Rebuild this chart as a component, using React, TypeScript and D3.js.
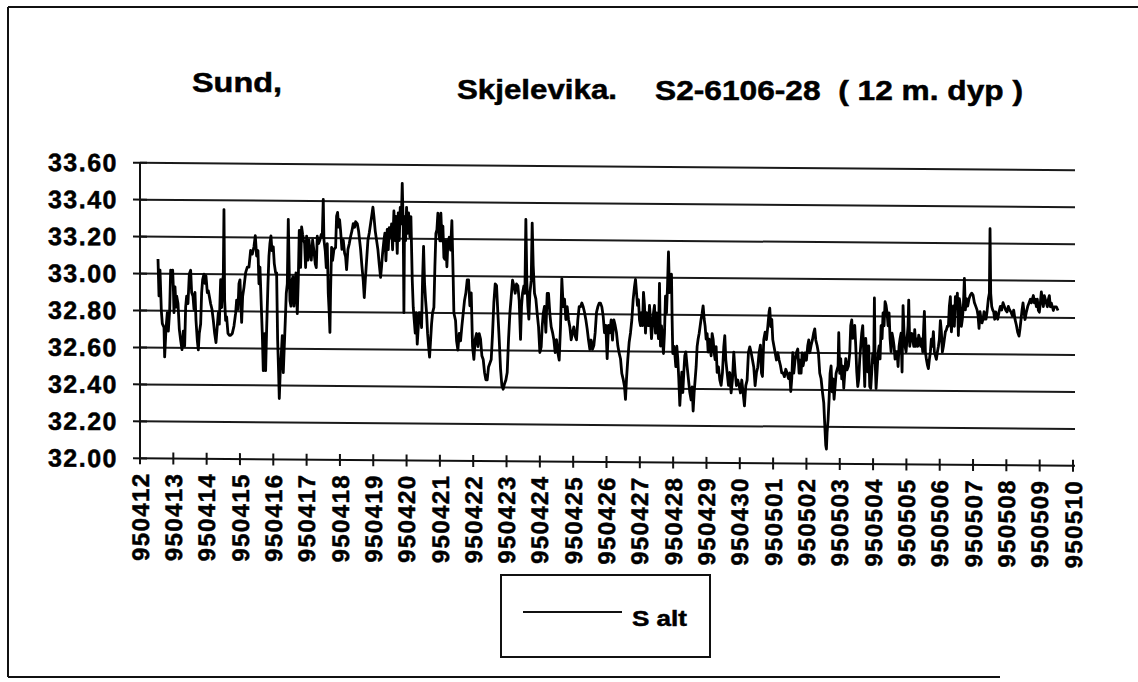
import React from 'react';
import * as d3 from 'd3';

// Salinity readings: [days since 950412 00:00, salinity]
const readings: [number, number][] = [
[0.54,33.08],[0.57,32.88],[0.60,33.02],[0.64,32.80],[0.67,32.73],[0.72,32.71],[0.74,32.55],[0.78,32.70],[0.82,32.79],[0.85,32.69],
[0.89,32.80],[0.92,33.02],[0.95,33.00],[0.98,33.02],[1.00,32.93],[1.02,32.79],[1.05,32.93],[1.08,32.82],[1.10,32.88],[1.14,32.84],
[1.18,32.70],[1.22,32.64],[1.26,32.59],[1.30,32.69],[1.34,32.61],[1.37,32.82],[1.40,32.88],[1.44,32.84],[1.48,33.00],[1.52,33.02],
[1.55,32.90],[1.59,32.88],[1.62,32.81],[1.65,32.90],[1.68,32.75],[1.72,32.64],[1.75,32.59],[1.78,32.68],[1.82,32.73],[1.85,32.90],
[1.88,32.97],[1.92,33.00],[1.95,32.95],[1.98,32.99],[2.02,32.90],[2.05,32.91],[2.08,32.88],[2.12,32.84],[2.16,32.81],[2.20,32.75],
[2.24,32.68],[2.28,32.63],[2.32,32.72],[2.35,32.79],[2.38,32.73],[2.42,32.97],[2.45,32.82],[2.48,32.97],[2.50,32.99],[2.52,33.35],
[2.54,32.86],[2.57,32.75],[2.60,32.77],[2.64,32.68],[2.68,32.67],[2.72,32.67],[2.77,32.68],[2.82,32.72],[2.87,32.79],[2.90,32.86],
[2.94,32.81],[2.97,32.95],[3.00,32.97],[3.02,32.88],[3.05,32.74],[3.08,32.88],[3.12,32.93],[3.17,33.01],[3.22,33.04],[3.27,33.04],
[3.32,33.13],[3.37,33.11],[3.42,33.15],[3.46,33.21],[3.50,33.10],[3.54,33.13],[3.57,32.95],[3.60,33.04],[3.64,32.83],[3.67,32.68],
[3.70,32.48],[3.74,32.68],[3.77,32.48],[3.80,32.70],[3.84,32.95],[3.87,33.10],[3.90,33.17],[3.93,33.21],[3.96,33.13],[4.00,33.15],
[4.03,33.06],[4.07,33.01],[4.10,33.01],[4.13,32.65],[4.16,32.47],[4.18,32.33],[4.21,32.48],[4.24,32.57],[4.27,32.67],[4.30,32.47],
[4.33,32.61],[4.36,32.75],[4.39,32.90],[4.42,32.95],[4.45,33.30],[4.48,33.01],[4.50,32.86],[4.53,32.83],[4.56,32.97],[4.59,32.99],
[4.62,32.83],[4.65,32.92],[4.68,33.01],[4.72,32.79],[4.75,32.97],[4.78,33.24],[4.82,33.04],[4.85,33.26],[4.88,33.22],[4.91,33.19],
[4.94,33.17],[4.97,33.04],[5.00,33.21],[5.04,33.08],[5.07,33.19],[5.10,33.13],[5.14,33.08],[5.18,33.19],[5.22,33.13],[5.26,33.06],
[5.29,33.04],[5.32,33.21],[5.36,33.17],[5.40,33.19],[5.44,33.22],[5.47,33.21],[5.50,33.41],[5.52,33.19],[5.56,33.13],[5.59,33.04],
[5.62,33.17],[5.65,32.90],[5.68,32.79],[5.70,32.69],[5.72,32.92],[5.75,33.15],[5.78,33.08],[5.82,33.14],[5.87,33.15],[5.90,33.32],
[5.93,33.34],[5.96,33.26],[5.99,33.30],[6.02,33.24],[6.06,33.14],[6.10,33.19],[6.14,33.12],[6.17,33.10],[6.20,33.03],[6.24,33.14],
[6.28,33.17],[6.32,33.21],[6.36,33.24],[6.40,33.28],[6.44,33.26],[6.47,33.29],[6.52,33.28],[6.56,33.24],[6.59,33.19],[6.62,33.14],
[6.66,33.05],[6.70,32.97],[6.73,32.88],[6.76,32.97],[6.80,33.08],[6.84,33.19],[6.88,33.23],[6.92,33.28],[6.96,33.33],[6.99,33.37],
[7.02,33.32],[7.06,33.24],[7.10,33.19],[7.14,33.14],[7.18,33.06],[7.22,32.99],[7.25,33.05],[7.28,33.12],[7.32,33.19],[7.35,33.23],
[7.38,33.08],[7.42,33.25],[7.45,33.14],[7.48,33.26],[7.52,33.21],[7.55,33.28],[7.58,33.14],[7.62,33.35],[7.65,33.19],[7.68,33.32],
[7.72,33.12],[7.75,33.34],[7.78,33.19],[7.81,33.37],[7.84,33.28],[7.87,33.50],[7.90,33.26],[7.92,32.80],[7.94,33.32],[7.97,33.19],
[8.00,33.37],[8.03,33.23],[8.06,33.34],[8.10,33.21],[8.13,33.32],[8.17,32.98],[8.20,32.83],[8.23,32.76],[8.26,32.69],[8.29,32.80],
[8.32,32.63],[8.35,32.72],[8.38,32.80],[8.42,32.80],[8.45,32.72],[8.48,32.98],[8.51,33.16],[8.54,32.96],[8.57,32.87],[8.60,32.80],
[8.63,32.69],[8.66,32.62],[8.69,32.56],[8.72,32.65],[8.75,32.74],[8.78,32.80],[8.82,32.83],[8.85,33.05],[8.88,33.23],[8.91,33.25],
[8.94,33.34],[8.97,33.23],[9.00,33.19],[9.03,33.34],[9.06,33.19],[9.09,33.27],[9.12,33.10],[9.15,33.09],[9.18,33.19],[9.21,33.05],
[9.24,33.18],[9.28,33.21],[9.32,33.14],[9.36,33.30],
[9.40,32.98],[9.42,32.80],[9.47,32.76],[9.50,32.65],[9.54,32.60],[9.58,32.69],[9.62,32.65],[9.66,32.73],[9.70,32.80],[9.74,32.87],
[9.78,32.91],[9.82,32.98],[9.86,32.98],[9.90,32.84],[9.94,32.91],[9.98,32.62],[10.02,32.55],[10.06,32.66],[10.10,32.69],[10.14,32.62],
[10.18,32.69],[10.22,32.66],[10.26,32.57],[10.30,32.55],[10.34,32.48],[10.38,32.44],[10.42,32.44],[10.46,32.51],[10.50,32.53],[10.54,32.55],
[10.58,32.69],[10.62,32.86],[10.66,32.96],[10.70,32.95],[10.74,32.80],[10.78,32.66],[10.82,32.50],[10.86,32.41],[10.90,32.39],[10.94,32.42],
[10.98,32.44],[11.02,32.48],[11.06,32.66],[11.10,32.80],[11.14,32.89],[11.18,32.98],[11.22,32.95],[11.26,32.91],[11.30,32.96],[11.34,32.95],
[11.38,32.87],[11.42,32.66],[11.45,32.84],[11.48,32.91],[11.52,32.95],[11.55,32.91],[11.58,33.31],[11.61,32.97],[11.64,32.84],[11.67,32.77],
[11.70,32.91],[11.74,32.98],[11.77,33.29],[11.80,33.06],[11.84,32.91],[11.88,32.88],[11.92,32.80],[11.96,32.73],[12.00,32.59],[12.04,32.62],
[12.07,32.73],[12.10,32.80],[12.14,32.84],[12.18,32.70],[12.22,32.91],[12.26,32.91],[12.30,32.80],[12.34,32.73],[12.38,32.70],[12.42,32.66],
[12.46,32.59],[12.50,32.66],[12.54,32.59],[12.58,32.55],[12.62,32.73],[12.66,32.99],[12.70,32.84],[12.74,32.88],[12.78,32.77],[12.82,32.84],
[12.86,32.77],[12.90,32.73],[12.94,32.66],[12.98,32.70],[13.02,32.73],[13.06,32.68],[13.10,32.66],[13.14,32.77],[13.18,32.84],[13.22,32.84],
[13.26,32.86],[13.30,32.84],[13.34,32.81],[13.38,32.77],[13.42,32.72],[13.46,32.66],[13.50,32.61],[13.54,32.66],[13.58,32.61],[13.62,32.63],
[13.66,32.70],[13.70,32.81],[13.74,32.84],[13.78,32.86],[13.82,32.86],[13.86,32.84],[13.90,32.79],[13.94,32.70],[13.98,32.74],[14.02,32.56],
[14.06,32.74],[14.10,32.70],[14.14,32.77],[14.18,32.66],[14.22,32.77],[14.26,32.74],[14.30,32.70],[14.34,32.63],[14.38,32.59],[14.42,32.56],
[14.46,32.48],[14.50,32.45],[14.54,32.41],[14.57,32.34],[14.60,32.45],[14.64,32.56],[14.68,32.65],[14.72,32.70],[14.76,32.77],[14.80,32.88],
[14.84,32.95],[14.87,32.99],[14.90,32.92],[14.93,32.85],[14.96,32.88],[14.99,32.77],[15.02,32.74],[15.05,32.81],[15.08,32.74],[15.11,32.92],
[15.14,32.85],[15.17,32.70],[15.20,32.81],[15.23,32.77],[15.26,32.74],[15.29,32.85],[15.32,32.77],[15.35,32.67],[15.38,32.74],[15.41,32.81],
[15.44,32.85],[15.47,32.70],[15.50,32.81],[15.53,32.74],[15.56,32.67],[15.59,32.97],[15.62,32.63],[15.65,32.74],[15.68,32.67],[15.71,32.59],
[15.74,32.70],[15.77,32.90],[15.80,32.81],[15.83,32.95],[15.86,33.14],[15.89,32.92],[15.92,32.95],[15.95,33.02],[15.97,32.77],[15.99,32.59],
[16.02,32.63],[16.05,32.59],[16.08,32.52],[16.11,32.63],[16.14,32.56],[16.17,32.45],[16.20,32.31],[16.23,32.41],[16.26,32.49],[16.29,32.38],
[16.32,32.49],[16.35,32.58],[16.38,32.60],[16.42,32.52],[16.46,32.45],[16.50,32.38],[16.54,32.34],[16.57,32.41],[16.60,32.28],[16.63,32.38],
[16.66,32.45],[16.69,32.52],[16.72,32.63],[16.75,32.67],[16.78,32.70],[16.81,32.74],[16.84,32.78],[16.87,32.81],[16.90,32.85],[16.93,32.78],
[16.96,32.74],[16.99,32.67],[17.02,32.70],[17.05,32.60],[17.08,32.67],[17.11,32.63],[17.14,32.58],[17.17,32.70],[17.20,32.67],[17.23,32.60],
[17.26,32.56],[17.29,32.63],[17.32,32.49],[17.36,32.52],[17.40,32.45],[17.44,32.42],[17.48,32.49],[17.52,32.63],[17.55,32.69],[17.58,32.56],
[17.62,32.49],[17.66,32.42],[17.70,32.49],[17.74,32.38],[17.78,32.45],[17.82,32.60],[17.86,32.49],[17.90,32.42],[17.94,32.45],[17.98,32.42],
[18.02,32.38],[18.06,32.45],[18.10,32.38],[18.14,32.31],[18.18,32.42],[18.22,32.45],[18.26,32.60],[18.30,32.63],[18.34,32.60],[18.38,32.56],
[18.42,32.52],[18.46,32.42],[18.50,32.49],[18.54,32.52],[18.58,32.60],[18.62,32.64],
[18.65,32.49],[18.68,32.47],[18.72,32.67],[18.76,32.71],[18.80,32.67],[18.84,32.74],[18.88,32.82],[18.90,32.84],[18.93,32.74],[18.96,32.78],
[18.99,32.67],[19.02,32.64],[19.06,32.60],[19.10,32.56],[19.14,32.60],[19.18,32.56],[19.22,32.53],[19.26,32.49],[19.30,32.49],[19.34,32.47],
[19.38,32.51],[19.42,32.49],[19.46,32.46],[19.50,32.49],[19.53,32.39],[19.56,32.46],[19.59,32.60],[19.62,32.49],[19.66,32.56],[19.70,32.60],
[19.74,32.62],[19.78,32.49],[19.81,32.56],[19.84,32.49],[19.87,32.60],[19.90,32.53],[19.93,32.56],[19.96,32.60],[20.00,32.56],[20.04,32.64],
[20.07,32.67],[20.10,32.60],[20.14,32.64],[20.18,32.67],[20.22,32.71],[20.25,32.73],[20.28,32.67],[20.32,32.64],[20.36,32.60],[20.40,32.49],
[20.44,32.46],[20.48,32.39],[20.52,32.33],[20.55,32.21],[20.58,32.10],[20.60,32.08],[20.62,32.17],[20.65,32.24],[20.68,32.35],[20.71,32.49],
[20.74,32.53],[20.77,32.39],[20.80,32.46],[20.83,32.35],[20.86,32.42],[20.89,32.49],[20.92,32.51],[20.95,32.53],[20.97,32.71],[21.00,32.49],
[21.03,32.57],[21.06,32.46],[21.09,32.53],[21.12,32.41],[21.15,32.49],[21.18,32.57],[21.22,32.51],[21.26,32.53],[21.30,32.60],[21.33,32.75],
[21.36,32.78],[21.39,32.68],[21.42,32.71],[21.45,32.75],[21.48,32.64],[21.51,32.50],[21.54,32.42],[21.57,32.46],[21.60,32.57],[21.63,32.64],
[21.66,32.71],[21.69,32.75],[21.72,32.59],[21.75,32.42],[21.78,32.68],[21.81,32.57],[21.84,32.50],[21.87,32.64],[21.90,32.42],[21.93,32.41],
[21.96,32.50],[21.99,32.60],[22.02,32.55],[22.04,32.90],[22.06,32.57],[22.09,32.41],[22.12,32.50],[22.15,32.60],[22.18,32.64],[22.21,32.57],
[22.24,32.75],[22.27,32.68],[22.30,32.82],[22.33,32.75],[22.36,32.88],[22.39,32.86],[22.42,32.82],[22.45,32.75],[22.48,32.82],[22.51,32.68],
[22.54,32.61],[22.57,32.71],[22.60,32.68],[22.63,32.64],[22.66,32.57],[22.69,32.61],[22.72,32.61],[22.75,32.53],[22.78,32.64],[22.81,32.68],
[22.84,32.71],[22.87,32.50],[22.90,32.86],[22.93,32.71],[22.96,32.64],[22.99,32.61],[23.02,32.68],[23.05,32.75],[23.07,32.89],[23.10,32.64],
[23.13,32.68],[23.16,32.71],[23.19,32.68],[23.22,32.64],[23.25,32.73],[23.28,32.64],[23.31,32.68],[23.34,32.64],[23.37,32.70],[23.40,32.68],
[23.43,32.64],[23.46,32.68],[23.49,32.61],[23.52,32.75],[23.54,32.83],[23.57,32.61],[23.60,32.57],[23.63,32.54],[23.66,32.52],[23.69,32.57],
[23.72,32.61],[23.75,32.68],[23.78,32.64],[23.81,32.72],[23.84,32.61],[23.87,32.59],[23.90,32.57],[23.93,32.61],[23.96,32.64],[23.99,32.68],
[24.02,32.78],[24.05,32.72],[24.08,32.61],[24.11,32.64],[24.14,32.68],[24.17,32.72],[24.20,32.73],[24.23,32.75],[24.26,32.75],[24.29,32.86],
[24.32,32.91],[24.35,32.72],[24.38,32.79],[24.41,32.86],[24.44,32.75],[24.47,32.91],[24.50,32.86],[24.53,32.93],[24.56,32.70],[24.59,32.90],
[24.62,32.86],[24.65,32.75],[24.68,32.79],[24.71,32.86],[24.74,33.01],[24.77,32.84],[24.80,32.90],[24.84,32.86],[24.88,32.90],[24.92,32.92],
[24.96,32.93],[25.00,32.92],[25.04,32.88],[25.08,32.86],[25.12,32.84],[25.15,32.81],[25.18,32.74],[25.21,32.83],[25.24,32.79],[25.27,32.77],
[25.30,32.79],[25.33,32.83],[25.36,32.79],[25.39,32.79],[25.42,32.83],[25.46,32.90],[25.49,32.93],[25.51,33.28],[25.53,32.93],[25.56,32.86],
[25.59,32.84],[25.62,32.83],[25.65,32.79],[25.68,32.83],[25.71,32.81],[25.74,32.79],[25.78,32.83],[25.82,32.86],[25.86,32.84],[25.90,32.88],
[25.94,32.86],[25.98,32.84],[26.02,32.83],[26.06,32.86],[26.10,32.84],[26.14,32.83],[26.18,32.81],[26.22,32.84],[26.26,32.79],[26.30,32.76],
[26.34,32.72],[26.38,32.70],[26.41,32.74],[26.44,32.79],[26.47,32.84],[26.50,32.88],[26.53,32.83],[26.56,32.79],[26.60,32.83],[26.64,32.86],
[26.68,32.88],[26.72,32.90],[26.75,32.88],[26.78,32.90],[26.81,32.92],[26.84,32.88],[26.87,32.90],[26.90,32.86],[26.93,32.90],[26.96,32.84],
[26.99,32.83],[27.02,32.88],[27.05,32.94],[27.08,32.90],[27.11,32.86],[27.14,32.92],[27.17,32.90],[27.20,32.88],[27.23,32.86],[27.26,32.90],
[27.29,32.92],[27.32,32.86],[27.35,32.88],[27.38,32.86],[27.41,32.84],[27.44,32.86],[27.47,32.86],[27.50,32.86],[27.55,32.84]
];

const dateLabels = [
  '950412','950413','950414','950415','950416','950417','950418','950419','950420','950421',
  '950422','950423','950424','950425','950426','950427','950428','950429','950430','950501',
  '950502','950503','950504','950505','950506','950507','950508','950509','950510'
];
const yTickValues = [32.0, 32.2, 32.4, 32.6, 32.8, 33.0, 33.2, 33.4, 33.6];
const titleLeft = 'Sund,';
const titleMid = 'Skjelevika.';
const titleRight = 'S2-6106-28  ( 12 m. dyp )';
const seriesName = 'S alt';

const FONT = '"Liberation Sans", Arial, Helvetica, sans-serif';

export default function App() {
  const W = 1138, H = 682;
  const x = d3.scaleLinear().domain([0, dateLabels.length - 1]).range([140, 1073]);
  const y = d3.scaleLinear().domain([32, 33.6]).range([457.2, 161.6]);
  const line = d3.line<[number, number]>().x(d => x(d[0])).y(d => y(d[1]));
  const xLeft = x(0), xRight = 1075;
  const axisY = y(32);
  const heavy = { stroke: '#000', strokeWidth: 0.5 };

  return (
    <svg width={W} height={H} viewBox={`0 0 ${W} ${H}`}
      style={{ position: 'absolute', left: 0, top: 0, background: '#fff' }}
      fontFamily={FONT}>
      <rect x={0} y={0} width={W} height={H} fill="#fff" />
      {/* outer frame */}
      <line x1={8} y1={7} x2={8} y2={677} stroke="#111" strokeWidth={2} />
      <line x1={8} y1={7} x2={1138} y2={7} stroke="#111" strokeWidth={2} />
      <line x1={8} y1={677} x2={1000} y2={677} stroke="#111" strokeWidth={2} />

      {/* title */}
      <text x={192} y={92} fontSize={27} fontWeight="bold" textLength={90} lengthAdjust="spacingAndGlyphs" {...heavy}>{titleLeft}</text>
      <text x={457} y={99} fontSize={27} fontWeight="bold" textLength={160} lengthAdjust="spacingAndGlyphs" {...heavy}>{titleMid}</text>
      <text x={655} y={100} fontSize={27} fontWeight="bold" textLength={368} lengthAdjust="spacingAndGlyphs" style={{ whiteSpace: 'pre' }} {...heavy}>{titleRight}</text>

      <g transform="skewY(0.46)">
        {/* gridlines */}
        {yTickValues.filter(v => v > 32).map(v => (
          <line key={'g' + v} x1={xLeft} x2={xRight} y1={y(v)} y2={y(v)} stroke="#1a1a1a" strokeWidth={2} />
        ))}
        {/* y axis */}
        <line x1={xLeft} x2={xLeft} y1={y(33.6)} y2={axisY} stroke="#111" strokeWidth={2} />
        {yTickValues.map(v => (
          <g key={'yt' + v}>
            <line x1={xLeft - 7} x2={xLeft + 7} y1={y(v)} y2={y(v)} stroke="#111" strokeWidth={2} />
            <text x={118} y={y(v)} dy="0.36em" textAnchor="end" fontSize={25} fontWeight="bold" letterSpacing={1.5} {...heavy}>{v.toFixed(2)}</text>
          </g>
        ))}
        {/* x axis */}
        <line x1={xLeft} x2={xRight} y1={axisY} y2={axisY} stroke="#111" strokeWidth={2} />
        {dateLabels.map((lab, i) => (
          <g key={lab}>
            <line x1={x(i)} x2={x(i)} y1={axisY - 6} y2={axisY + 6} stroke="#111" strokeWidth={2} />
            <text transform={`translate(${x(i)},${axisY + 14}) rotate(-90)`} dy="0.36em" textAnchor="end"
              fontSize={24} fontWeight="bold" letterSpacing={1.4} {...heavy}>{lab}</text>
          </g>
        ))}
        {/* series */}
        <path d={line(readings) || ''} fill="none" stroke="#000" strokeWidth={2.8} strokeLinejoin="round" />
      </g>

      {/* legend */}
      <rect x={501} y={575} width={209} height={82} fill="none" stroke="#111" strokeWidth={2} />
      <line x1={523} x2={622} y1={612} y2={612} stroke="#111" strokeWidth={2} />
      <text x={632} y={626} fontSize={22} fontWeight="bold" textLength={55} lengthAdjust="spacingAndGlyphs" style={{ whiteSpace: 'pre' }} {...heavy}>{seriesName}</text>
    </svg>
  );
}
